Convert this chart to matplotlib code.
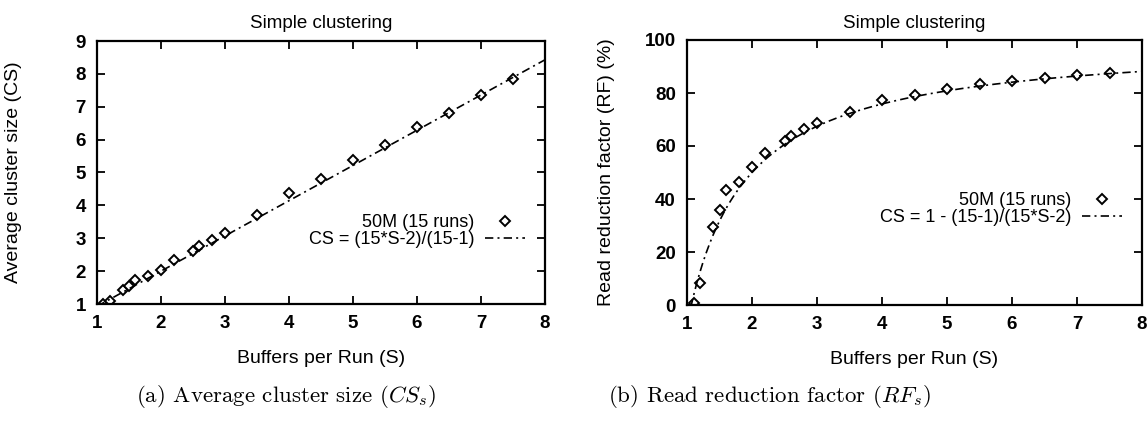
import numpy as np
import matplotlib
matplotlib.use("Agg")
from matplotlib import pyplot as plt

plt.rcParams["font.family"] = ["Liberation Sans", "DejaVu Sans"]
plt.rcParams["mathtext.fontset"] = "cm"

# measured runs, 50M records, 15 runs
buffers = [1.1, 1.2, 1.4, 1.5, 1.6, 1.8, 2.0, 2.2, 2.5, 2.6, 2.8, 3.0,
           3.5, 4.0, 4.5, 5.0, 5.5, 6.0, 6.5, 7.0, 7.5]
cluster_size = [1.0, 1.09, 1.44, 1.56, 1.73, 1.84, 2.04, 2.34, 2.6, 2.75, 2.96, 3.16,
                3.7, 4.37, 4.79, 5.37, 5.84, 6.39, 6.81, 7.35, 7.84]
read_reduction = [0.6, 8.2, 29.5, 35.8, 43.3, 46.5, 52.0, 57.5, 62.0, 63.8, 66.3, 68.6,
                  73.0, 77.4, 79.2, 81.4, 83.3, 84.7, 85.5, 86.8, 87.7]

n_runs = 15
x_ticks = [1, 2, 3, 4, 5, 6, 7, 8]
cs_ticks = [1, 2, 3, 4, 5, 6, 7, 8, 9]
rf_ticks = [0, 20, 40, 60, 80, 100]

# model curves
s = np.linspace(1, 8, 400)
cs_model = (n_runs * s - 2) / (n_runs - 1)
rf_model = 100 * (1 - (n_runs - 1) / (n_runs * s - 2))

W, H = 1147, 423
fig = plt.figure(figsize=(W / 100, H / 100), dpi=100)
ax1 = fig.add_axes([97 / W, 1 - 304 / H, 448 / W, 263 / H])
ax2 = fig.add_axes([687 / W, 1 - 305 / H, 455 / W, 265 / H])

dash = (0, (5, 2.5, 1.2, 2.5))
mk = dict(marker="D", markersize=5, mfc="white", mec="black", mew=1.4, ls="none")


def style(ax, yticks, ylabel):
    ax.set_xlim(1, 8)
    ax.set_ylim(yticks[0], yticks[-1])
    ax.set_xticks(x_ticks)
    ax.set_yticks(yticks)
    ax.tick_params(direction="in", length=6, width=1.3, top=True, right=True,
                   labelsize=13.5, pad=8)
    for lab in ax.get_xticklabels() + ax.get_yticklabels():
        lab.set_fontweight("bold")
    for sp in ax.spines.values():
        sp.set_linewidth(1.6)
    ax.set_title("Simple clustering", fontsize=13.5, pad=9)
    ax.set_xlabel("Buffers per Run (S)", fontsize=14, labelpad=13)
    ax.set_ylabel(ylabel, fontsize=14)


ax1.plot(buffers, cluster_size, label="50M (15 runs)", **mk)
ax1.plot(s, cs_model, color="black", lw=1.2, ls=dash, label="CS = (15*S-2)/(15-1)")
style(ax1, cs_ticks, "Average cluster size (CS)")
ax1.yaxis.set_label_coords(-0.167, 0.5)
ax1.legend(loc="upper right", bbox_to_anchor=(0.975, 0.375), frameon=False,
           markerfirst=False, fontsize=13, handlelength=2.2, handletextpad=0.6,
           labelspacing=0.0, borderpad=0)

ax2.plot(buffers, read_reduction, label="50M (15 runs)", **mk)
ax2.plot(s, rf_model, color="black", lw=1.2, ls=dash, label="CS = 1 - (15-1)/(15*S-2)")
style(ax2, rf_ticks, "Read reduction factor (RF) (%)")
ax2.yaxis.set_label_coords(-0.158, 0.5)
ax2.legend(loc="upper right", bbox_to_anchor=(0.975, 0.46), frameon=False,
           markerfirst=False, fontsize=13, handlelength=2.2, handletextpad=0.6,
           labelspacing=0.0, borderpad=0)

fig.text(286 / W, 1 - 396 / H, r"(a) Average cluster size ($CS_s$)",
         family="cmr10", fontsize=16.5, ha="center", va="center")
fig.text(769 / W, 1 - 396 / H, r"(b) Read reduction factor ($RF_s$)",
         family="cmr10", fontsize=16.5, ha="center", va="center")

fig.savefig("out.png", dpi=100)
